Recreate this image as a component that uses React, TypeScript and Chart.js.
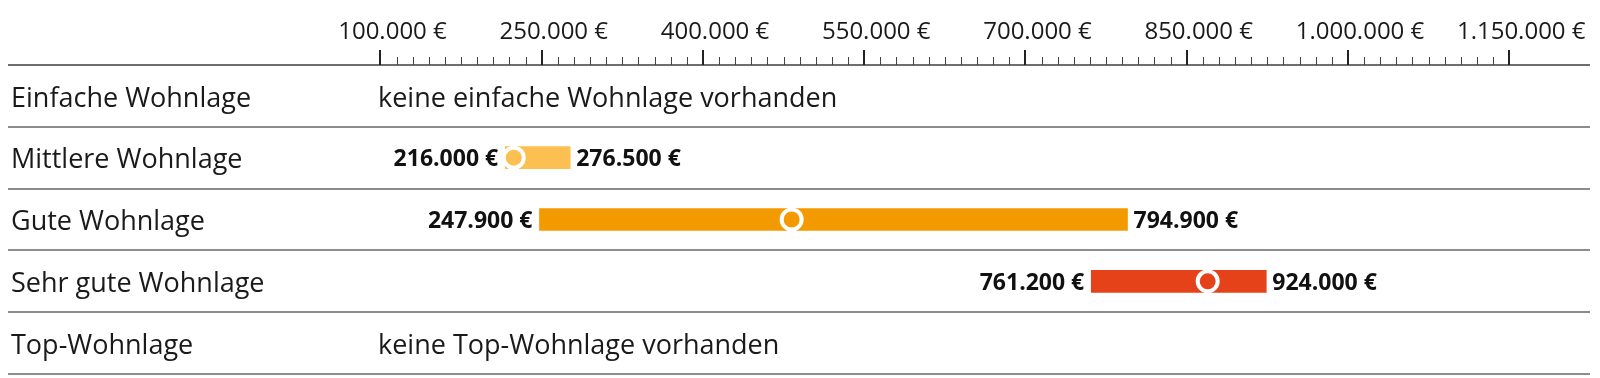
import React, { useEffect, useRef } from 'react';
import { Chart, registerables } from 'chart.js';

Chart.register(...registerables);

const ROWS = ['Einfache Wohnlage', 'Mittlere Wohnlage', 'Gute Wohnlage', 'Sehr gute Wohnlage', 'Top-Wohnlage'];
const LOW: (number | null)[] = [null, 216000, 247900, 761200, null];
const HIGH: (number | null)[] = [null, 276500, 794900, 924000, null];
const MEDIAN: (number | null)[] = [null, 224000, 482500, 869500, null];
const BAR_COLORS = ['#fcbf52', '#fcbf52', '#f39a00', '#e5421a', '#e5421a'];
const NOTES = ['keine einfache Wohnlage vorhanden', '', '', '', 'keine Top-Wohnlage vorhanden'];

const TICK_FIRST = 100000;
const TICK_LAST = 1150000;
const MINOR_STEP = 15000;
const MAJOR_STEP = 150000;
const X_MIN = -246500;
const X_MAX = 1227000;

const FONT = "'Open Sans', sans-serif";

const fmt = (v: number) => String(Math.round(v)).replace(/\B(?=(\d{3})+(?!\d))/g, '.') + ' €';
const isMajor = (v: number) => (v - TICK_FIRST) % MAJOR_STEP === 0;

const decor = {
  id: 'decor',
  beforeDatasetsDraw(chart: any) {
    const { ctx, chartArea, scales } = chart;
    const x = scales.x;
    const y = scales.y;
    const W = chart.width;
    ctx.save();
    // row separators
    ctx.strokeStyle = '#8c8c8c';
    ctx.lineWidth = 2;
    for (let i = 0; i < ROWS.length; i++) {
      const c = y.getPixelForValue(i);
      const next = i < ROWS.length - 1 ? y.getPixelForValue(i + 1) : c + (c - y.getPixelForValue(i - 1));
      const yy = Math.round((c + next) / 2);
      ctx.beginPath();
      ctx.moveTo(0, yy);
      ctx.lineTo(W - 2, yy);
      ctx.stroke();
    }
    // axis line
    const top = Math.round(chartArea.top);
    ctx.strokeStyle = '#6e6e6e';
    ctx.beginPath();
    ctx.moveTo(0, top);
    ctx.lineTo(W - 2, top);
    ctx.stroke();
    // tick marks
    for (const t of x.ticks) {
      const px = Math.round(x.getPixelForValue(t.value));
      const major = isMajor(t.value);
      ctx.strokeStyle = major ? '#222' : '#444';
      ctx.lineWidth = major ? 2 : 1;
      const off = major ? 0 : 0.5;
      ctx.beginPath();
      ctx.moveTo(px + off, top - (major ? 15 : 8));
      ctx.lineTo(px + off, top);
      ctx.stroke();
    }
    ctx.restore();
  },
  afterDatasetsDraw(chart: any) {
    const { ctx, scales } = chart;
    const x = scales.x;
    const y = scales.y;
    ctx.save();
    ctx.textBaseline = 'middle';
    ctx.fillStyle = '#111';
    for (let i = 0; i < ROWS.length; i++) {
      const cy = y.getPixelForValue(i);
      const lo = LOW[i];
      const hi = HIGH[i];
      if (lo != null && hi != null) {
        ctx.font = `bold 23px ${FONT}`;
        ctx.textAlign = 'right';
        ctx.fillText(fmt(lo), x.getPixelForValue(lo) - 7, cy + 2);
        ctx.textAlign = 'left';
        ctx.fillText(fmt(hi), x.getPixelForValue(hi) + 6, cy + 2);
      }
      if (NOTES[i]) {
        ctx.font = `27px ${FONT}`;
        ctx.fillStyle = '#1a1a1a';
        ctx.textAlign = 'left';
        ctx.fillText(NOTES[i], 370, cy + 3);
        ctx.fillStyle = '#111';
      }
    }
    ctx.restore();
  },
};

export default function App() {
  const ref = useRef<HTMLCanvasElement | null>(null);
  useEffect(() => {
    document.body.style.margin = '0';
    document.body.style.overflow = 'hidden';
    const canvas = ref.current;
    if (!canvas) return;
    const medIdx = MEDIAN.map((m, i) => (m == null ? -1 : i)).filter((i) => i >= 0);
    const chart = new Chart(canvas, {
      type: 'bar',
      data: {
        labels: ROWS,
        datasets: [
          {
            type: 'line',
            label: 'Median',
            data: medIdx.map((i) => ({ x: MEDIAN[i] as number, y: ROWS[i] })) as any,
            showLine: false,
            pointRadius: 10,
            pointHoverRadius: 10,
            pointBorderWidth: 4,
            pointHoverBorderWidth: 4,
            pointBorderColor: '#ffffff',
            pointBackgroundColor: medIdx.map((i) => BAR_COLORS[i]),
            clip: false,
            order: 0,
          } as any,
          {
            type: 'bar',
            label: 'Spanne',
            data: ROWS.map((_, i) => (LOW[i] == null ? null : [LOW[i], HIGH[i]])) as any,
            backgroundColor: BAR_COLORS,
            barThickness: 22,
            borderWidth: 0,
            order: 1,
          } as any,
        ],
      },
      options: {
        indexAxis: 'y',
        animation: false,
        responsive: true,
        maintainAspectRatio: false,
        devicePixelRatio: 1,
        layout: { autoPadding: false, padding: { left: 0, right: 0, top: 0, bottom: 4 } },
        plugins: { legend: { display: false }, tooltip: { enabled: false } },
        events: [],
        scales: {
          x: {
            type: 'linear',
            position: 'top',
            min: X_MIN,
            max: X_MAX,
            grid: { display: false, drawTicks: false },
            border: { display: false },
            afterBuildTicks: (scale: any) => {
              const t: any[] = [];
              for (let v = TICK_FIRST; v <= TICK_LAST; v += MINOR_STEP) t.push({ value: v, major: isMajor(v) });
              scale.ticks = t;
            },
            afterFit: (scale: any) => {
              scale.height = 57;
              scale.paddingLeft = 0;
              scale.paddingRight = 0;
            },
            ticks: {
              autoSkip: false,
              maxRotation: 0,
              minRotation: 0,
              padding: 18,
              labelOffset: 12,
              color: '#1a1a1a',
              font: { family: FONT, size: 24 },
              callback: (v: any) => (isMajor(Number(v)) ? fmt(Number(v)) : ''),
            },
          },
          y: {
            type: 'category',
            position: 'left',
            grid: { display: false, drawTicks: false },
            border: { display: false },
            afterFit: (scale: any) => {
              scale.width = 0;
              scale.paddingTop = 0;
              scale.paddingBottom = 0;
            },
            ticks: {
              mirror: true,
              crossAlign: 'near',
              padding: 3,
              labelOffset: 3,
              color: '#1a1a1a',
              font: { family: FONT, size: 27 },
            },
          },
        },
      },
      plugins: [decor],
    } as any);
    return () => chart.destroy();
  }, []);
  return (
    <div style={{ padding: '8px 8px 0 8px' }}>
      <div style={{ position: 'relative', width: 1584, height: 370 }}>
        <canvas ref={ref} />
      </div>
    </div>
  );
}
